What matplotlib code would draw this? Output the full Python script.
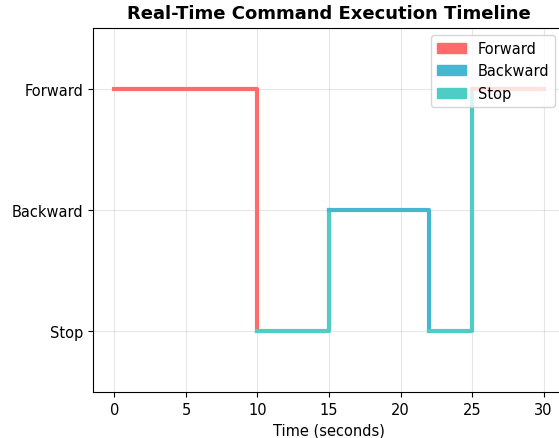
import matplotlib
matplotlib.use("Agg")
import matplotlib.pyplot as plt
from matplotlib.patches import Patch

commands = ["Forward", "Stop", "Backward", "Stop", "Forward"]
start_times = [0, 10, 15, 22, 25]
end_time = 30
levels = {"Stop": 0, "Backward": 1, "Forward": 2}
colors = {"Forward": "#FF6B6B", "Backward": "#45B7D1", "Stop": "#4ECDC4"}
ytick_labels = ["Stop", "Backward", "Forward"]

fig = plt.figure(figsize=(5.59, 4.39), dpi=100)
ax = fig.add_axes([93/559, 46/439, (565-93)/559, (393-29)/439])

for i, cmd in enumerate(commands):
    t0 = start_times[i]
    t1 = start_times[i+1] if i + 1 < len(start_times) else end_time
    y0 = levels[cmd]
    xs = [t0, t1]
    ys = [y0, y0]
    if i + 1 < len(commands):
        xs.append(t1)
        ys.append(levels[commands[i+1]])
    ax.plot(xs, ys, color=colors[cmd], linewidth=3)

ax.set_yticks([0, 1, 2])
ax.set_yticklabels(ytick_labels)
ax.set_ylim(-0.5, 2.5)
ax.set_xlim(-1.5, 31.5)
ax.set_xlabel("Time (seconds)", fontsize=10.5)
ax.set_title("Real-Time Command Execution Timeline", fontsize=13, fontweight="bold", pad=7)
ax.grid(True, alpha=0.3)
ax.tick_params(labelsize=10.5)

handles = [Patch(color=colors[c], label=c) for c in ["Forward", "Backward", "Stop"]]
ax.legend(handles=handles, loc="upper right", fontsize=10.5, bbox_to_anchor=(0.995, 1.0))

fig.savefig("out.png", dpi=100)
